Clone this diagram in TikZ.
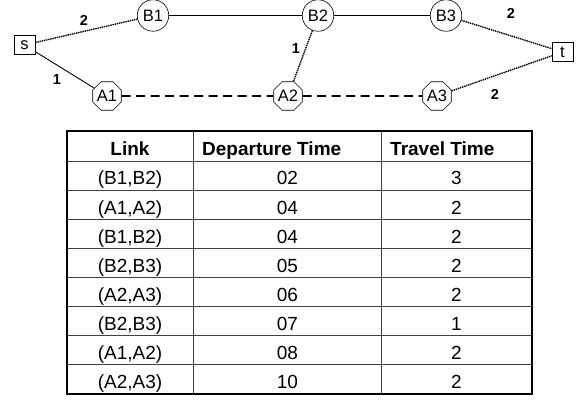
\documentclass[tikz,border=0pt]{standalone}
\usepackage{fontspec}
\setmainfont{Liberation Sans}
\usetikzlibrary{shapes.geometric}

\begin{document}
\begin{tikzpicture}[x=1pt,y=-1pt,
	Edge/.style={-,black,line width=0.9pt},
	Hold/.style={-,black,line width=1.4pt,dash pattern=on 1.4pt off 0.8pt},
	Ride/.style={-,black,line width=1.9pt,dash pattern=on 9pt off 5.5pt},
	BNode/.style={circle,fill=white,draw=black,line width=0.6pt,minimum size=31.5pt,inner sep=0pt,font=\fontsize{16.5}{16.5}\selectfont},
	ANode/.style={regular polygon,regular polygon sides=8,fill=white,draw=black,line width=0.6pt,minimum size=30pt,inner sep=0pt,font=\fontsize{16.5}{16.5}\selectfont},
	EndNode/.style={rectangle,fill=white,draw=black,line width=0.6pt,minimum width=21pt,minimum height=19.5pt,inner sep=0pt,font=\fontsize{16.5}{16.5}\selectfont},
	Weight/.style={font=\fontsize{14.5}{14.5}\selectfont\bfseries},
	Frame/.style={draw=black,line width=1.8pt},
	Grid/.style={draw=black!75,line width=0.9pt},
	Head/.style={font=\fontsize{19}{19}\selectfont\bfseries},
	Cell/.style={anchor=base,font=\fontsize{19}{19}\selectfont},
]
	\useasboundingbox (0,0) rectangle (584,404);
	% network
	\node[EndNode] (s) at (24.5,45) {s};
	\node[EndNode] (t) at (562.5,52) {t};
	\node[BNode] (B1) at (153,15.5) {B1};
	\node[BNode] (B2) at (318,15.5) {B2};
	\node[BNode] (B3) at (446,15.5) {B3};
	\node[ANode] (A1) at (107,96) {A1};
	\node[ANode] (A2) at (288,96) {A2};
	\node[ANode] (A3) at (437,96) {A3};

	\path
	(s) edge[Hold] (B1)
	(s) edge[Edge] (A1)
	(B1) edge[Edge] (B2)
	(B2) edge[Edge] (B3)
	(B2) edge[Hold] (A2)
	(B3) edge[Hold] (t)
	(A3) edge[Hold] (t)
	(A1) edge[Ride] (A2)
	(A2) edge[Ride] (A3)
	;

	\node[Weight] (w1) at (84,20) {2};
	\node[Weight] (w2) at (57,80) {1};
	\node[Weight] (w3) at (296,49) {1};
	\node[Weight] (w4) at (511,13.5) {2};
	\node[Weight] (w5) at (495,94) {2};

	% table
	\foreach \i in {0,...,7}
		\draw[Grid] (67,161+\i*29.1) -- (532,161+\i*29.1);
	\foreach \x in {193,381}
		\draw[Grid] (\x,131) -- (\x,393.8);
	\draw[Frame] (67,131) rectangle (532,393.8);

	\node[Head,anchor=base] (hLink) at (130,155) {Link};
	\node[Head,anchor=base west,inner sep=0pt] (hDep) at (202,155) {Departure Time};
	\node[Head,anchor=base west,inner sep=0pt] (hTrav) at (390,155) {Travel Time};
	\foreach \r/\l/\d/\t in {1/{(B1,B2)}/02/3, 2/{(A1,A2)}/04/2, 3/{(B1,B2)}/04/2,
		4/{(B2,B3)}/05/2, 5/{(A2,A3)}/06/2, 6/{(B2,B3)}/07/1, 7/{(A1,A2)}/08/2, 8/{(A2,A3)}/10/2}
	{
		\node[Cell] (link\r) at (130,155.8+\r*29.1) {\l};
		\node[Cell] (dep\r) at (287.5,155.8+\r*29.1) {\d};
		\node[Cell] (trav\r) at (456.5,155.8+\r*29.1) {\t};
	}
\end{tikzpicture}
\end{document}
